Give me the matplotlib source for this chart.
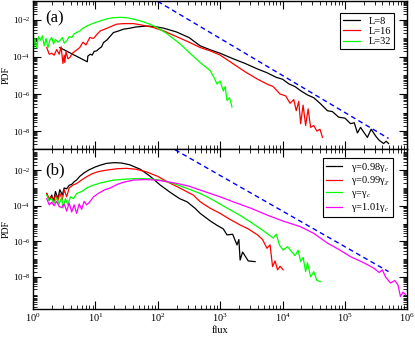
import numpy as np
import matplotlib
matplotlib.use("Agg")
import matplotlib.pyplot as plt
from matplotlib.ticker import LogLocator, NullFormatter, LogFormatterMathtext, FixedLocator

plt.rcParams['font.family'] = ['Liberation Serif', 'DejaVu Serif']
plt.rcParams['mathtext.fontset'] = 'stix'

# ---- data as log10 values ----
# panel (a): system size L
a8_lx = [0.43, 0.55, 0.65, 0.75, 0.87, 0.88, 0.92, 0.95, 0.98, 1.02, 1.06, 1.10, 1.13, 1.18, 1.22,
         1.29, 1.35, 1.45, 1.55, 1.65, 1.72, 1.82, 1.95, 2.1, 2.3, 2.5, 2.68, 2.84, 3.0, 3.21, 3.4,
         3.6, 3.75, 3.9, 4.0, 4.1, 4.2, 4.29, 4.4, 4.5, 4.6, 4.72, 4.8, 4.9, 5.0, 5.09, 5.15, 5.2,
         5.25, 5.3, 5.36, 5.42, 5.5, 5.55, 5.62, 5.66, 5.70]
a8_ly = [-3.5, -3.7, -3.88, -4.05, -4.26, -3.95, -3.85, -3.9, -3.7, -3.67, -3.55, -3.45, -3.22, -3.1,
         -2.95, -2.68, -2.62, -2.5, -2.45, -2.38, -2.36, -2.33, -2.36, -2.45, -2.65, -2.95, -3.40,
         -3.61, -3.8, -4.1, -4.35, -4.65, -4.85, -5.1, -5.2, -5.45, -5.6, -5.82, -6.05, -6.2, -6.5,
         -6.9, -6.95, -7.25, -7.3, -7.6, -7.55, -8.1, -7.8, -8.05, -8.34, -7.9, -8.3, -8.5, -8.67,
         -8.55, -8.67]

a16_lx = [0.22, 0.26, 0.30, 0.34, 0.38, 0.42, 0.45, 0.48, 0.50, 0.51, 0.53, 0.56, 0.59, 0.63, 0.67,
          0.71, 0.75, 0.80, 0.85, 0.91, 0.97, 1.02, 1.08, 1.15, 1.22, 1.34, 1.45, 1.61, 1.75, 1.93,
          2.1, 2.3, 2.5, 2.68, 2.84, 3.0, 3.21, 3.4, 3.6, 3.75, 3.85, 3.96, 4.05, 4.12, 4.18, 4.22,
          4.26, 4.29, 4.33, 4.37, 4.41, 4.45, 4.5, 4.55, 4.6, 4.64]
a16_ly = [-3.49, -3.85, -3.8, -3.9, -3.6, -3.85, -3.45, -4.35, -3.9, -4.3, -3.7, -4.1, -4.03, -3.8,
          -3.7, -3.6, -3.49, -3.2, -3.35, -2.95, -3.0, -2.8, -2.59, -2.5, -2.4, -2.23, -2.2, -2.2,
          -2.28, -2.41, -2.6, -2.9, -3.2, -3.49, -3.67, -3.9, -4.37, -4.8, -5.2, -5.46, -5.6, -6.0,
          -6.1, -6.5, -6.3, -6.9, -6.4, -7.6, -6.6, -7.7, -6.8, -7.8, -7.7, -8.0, -7.9, -8.34]

a32_lx = [0.0, 0.03, 0.06, 0.09, 0.12, 0.15, 0.18, 0.21, 0.24, 0.27, 0.30, 0.33, 0.36, 0.40, 0.43,
          0.47, 0.50, 0.54, 0.58, 0.62, 0.66, 0.70, 0.75, 0.80, 0.87, 0.95, 1.08, 1.2, 1.29, 1.4,
          1.5, 1.6, 1.72, 1.85, 1.99, 2.15, 2.36, 2.5, 2.68, 2.84, 2.9, 2.95, 3.0, 3.05, 3.08, 3.11,
          3.15, 3.19]
a32_ly = [-3.8, -3.0, -3.5, -2.9, -3.1, -2.86, -3.4, -3.0, -3.5, -3.1, -2.95, -3.3, -3.05, -3.2,
          -3.13, -2.95, -3.25, -3.13, -2.9, -2.95, -2.75, -2.68, -2.6, -2.45, -2.32, -2.2, -2.05,
          -1.93, -1.88, -1.86, -1.88, -1.95, -2.05, -2.2, -2.41, -2.75, -3.3, -3.75, -4.3, -4.74,
          -5.1, -5.46, -5.3, -5.84, -5.6, -6.35, -6.2, -6.7]

# panel (b): coupling gamma
b98_lx = [0.22, 0.26, 0.30, 0.33, 0.36, 0.40, 0.43, 0.47, 0.50, 0.54, 0.58, 0.62, 0.66, 0.70, 0.75,
          0.82, 0.90, 1.0, 1.08, 1.18, 1.3, 1.42, 1.55, 1.72, 1.88, 2.04, 2.2, 2.35, 2.47, 2.6, 2.68,
          2.84, 2.95, 3.05, 3.11, 3.2, 3.27, 3.3, 3.32, 3.36, 3.45, 3.56]
b98_ly = [-3.31, -3.7, -3.4, -3.75, -3.2, -3.6, -3.1, -3.4, -3.0, -3.05, -2.85, -2.8, -2.65, -2.55,
          -2.35, -2.15, -1.98, -1.82, -1.72, -1.62, -1.58, -1.6, -1.7, -1.95, -2.35, -2.84, -3.25,
          -3.6, -3.78, -4.15, -4.43, -4.85, -5.1, -5.3, -5.64, -5.6, -6.2, -5.9, -7.05, -6.6, -7.1,
          -7.14]

b99_lx = [0.22, 0.26, 0.30, 0.33, 0.36, 0.40, 0.43, 0.47, 0.50, 0.54, 0.58, 0.64, 0.7, 0.78, 0.86,
          0.95, 1.05, 1.18, 1.35, 1.5, 1.65, 1.82, 2.0, 2.15, 2.35, 2.57, 2.68, 2.84, 3.0, 3.15,
          3.32, 3.45, 3.6, 3.68, 3.75, 3.8, 3.84, 3.88, 3.92, 3.96, 4.01]
b99_ly = [-3.31, -3.6, -3.5, -3.8, -3.4, -3.7, -3.3, -3.65, -3.1, -3.5, -3.0, -2.84, -2.75, -2.55,
          -2.37, -2.2, -2.08, -2.0, -1.92, -1.9, -1.95, -2.1, -2.35, -2.65, -3.0, -3.4, -3.78,
          -4.14, -4.43, -4.75, -5.08, -5.3, -5.64, -5.9, -6.39, -6.2, -7.42, -7.1, -7.6, -7.4, -7.6]

b100_lx = [0.22, 0.26, 0.30, 0.34, 0.38, 0.42, 0.46, 0.48, 0.52, 0.56, 0.60, 0.65, 0.70, 0.78, 0.86,
           0.97, 1.1, 1.29, 1.5, 1.72, 1.9, 2.04, 2.25, 2.47, 2.68, 2.84, 3.11, 3.3, 3.48, 3.65,
           3.85, 3.9, 3.95, 4.01, 4.08, 4.15, 4.2, 4.25, 4.29, 4.33, 4.37, 4.4, 4.45, 4.5, 4.55,
           4.61]
b100_ly = [-3.4, -3.7, -3.6, -3.85, -3.55, -3.9, -3.5, -4.13, -3.6, -3.95, -3.5, -3.6, -3.31, -3.2,
           -3.0, -2.84, -2.7, -2.56, -2.5, -2.47, -2.5, -2.56, -2.75, -3.03, -3.31, -3.59, -4.13,
           -4.5, -4.9, -5.3, -5.81, -5.6, -6.2, -6.49, -6.3, -6.6, -6.8, -6.5, -7.14, -6.9, -7.7,
           -7.2, -8.0, -7.7, -8.2, -8.26]

b101_lx = [0.22, 0.26, 0.30, 0.34, 0.38, 0.42, 0.46, 0.50, 0.54, 0.58, 0.62, 0.66, 0.70, 0.74, 0.78,
           0.82, 0.86, 0.91, 0.97, 1.05, 1.15, 1.24, 1.35, 1.45, 1.61, 1.8, 1.98, 2.15, 2.31, 2.5,
           2.68, 2.84, 3.0, 3.21, 3.5, 3.75, 4.0, 4.29, 4.5, 4.72, 4.9, 5.09, 5.3, 5.46, 5.55, 5.6,
           5.65, 5.73, 5.8, 5.85, 5.89, 5.93, 5.97]
b101_ly = [-3.6, -3.95, -3.8, -4.0, -3.75, -4.05, -4.1, -3.9, -4.3, -3.85, -4.35, -3.95, -4.43,
           -3.9, -4.2, -3.75, -3.95, -3.78, -3.5, -3.3, -3.1, -3.0, -2.8, -2.68, -2.56, -2.53,
           -2.56, -2.65, -2.75, -2.9, -3.12, -3.31, -3.5, -3.78, -4.15, -4.52, -4.85, -5.18, -5.55,
           -6.1, -6.45, -6.86, -7.2, -7.5, -7.75, -7.6, -8.0, -8.34, -8.2, -8.45, -9.1, -8.85, -9.0]

# guide lines ~ flux^-2
guide_a = (1e2, 5e5, 1e3)   # x start, x end, prefactor
guide_b = (1.9e2, 5e5, 5e3)

xticks = [1e0, 1e1, 1e2, 1e3, 1e4, 1e5, 1e6]
yticks = [1e-8, 1e-6, 1e-4, 1e-2]

fig = plt.figure(figsize=(4.15, 3.38), dpi=100)
ax1 = fig.add_axes([0.0795, 0.559, 0.902, 0.438])
ax2 = fig.add_axes([0.0795, 0.0858, 0.902, 0.473])

lw = 0.9

def p(v):
    return 10.0 ** np.asarray(v)

ax1.plot(p(a8_lx), p(a8_ly), color='black', lw=lw, label='L=8')
ax1.plot(p(a16_lx), p(a16_ly), color='#ff0000', lw=lw, label='L=16')
ax1.plot(p(a32_lx), p(a32_ly), color='#00ff00', lw=lw, label='L=32')
gx = np.array(guide_a[:2])
ax1.plot(gx, guide_a[2] * gx ** -2.0, color='#0000ff', lw=1.0, ls=(0, (3.5, 2.5)))

ax2.plot(p(b98_lx), p(b98_ly), color='black', lw=lw, label=r'γ=0.98γ$_c$')
ax2.plot(p(b99_lx), p(b99_ly), color='#ff0000', lw=lw, label=r'γ=0.99γ$_\chi$')
ax2.plot(p(b100_lx), p(b100_ly), color='#00ff00', lw=lw, label=r'γ=γ$_c$')
ax2.plot(p(b101_lx), p(b101_ly), color='#ff00ff', lw=lw, label=r'γ=1.01γ$_c$')
gx = np.array(guide_b[:2])
ax2.plot(gx, guide_b[2] * gx ** -2.0, color='#0000ff', lw=1.0, ls=(0, (3.5, 2.5)))

ax1.set_ylim(10 ** -8.97, 10 ** -0.98)
ax2.set_ylim(10 ** -9.8, 10 ** -0.82)

for ax in (ax1, ax2):
    ax.set_xscale('log')
    ax.set_yscale('log')
    ax.set_xlim(1, 1e6)
    ax.xaxis.set_major_locator(FixedLocator(xticks))
    ax.xaxis.set_minor_locator(LogLocator(base=10, subs=np.arange(2, 10), numticks=20))
    ax.yaxis.set_major_locator(FixedLocator(yticks))
    ax.yaxis.set_minor_locator(LogLocator(base=10, subs=np.arange(1, 10), numticks=20))
    ax.xaxis.set_minor_formatter(NullFormatter())
    ax.yaxis.set_minor_formatter(NullFormatter())
    ax.yaxis.set_major_formatter(LogFormatterMathtext())
    ax.tick_params(which='both', direction='in', top=True, right=True, labelsize=6.5, pad=2)
    ax.tick_params(which='major', length=5.5, width=0.8)
    ax.tick_params(which='minor', length=3, width=0.6)
    for s in ax.spines.values():
        s.set_linewidth(1.0)
    ax.set_ylabel('PDF', fontsize=7, labelpad=0)
    ax.yaxis.set_label_coords(-0.06, 0.5)
    leg = ax.legend(fontsize=7.5, handlelength=1.6, labelspacing=0.1, borderpad=0.3,
                    handletextpad=0.8, fancybox=False, framealpha=1, edgecolor='black',
                    loc='upper right',
                    bbox_to_anchor=(0.978, 0.953) if ax is ax1 else (0.975, 0.98))
    leg.get_frame().set_linewidth(0.8)

ax1.tick_params(labelbottom=False)
ax2.xaxis.set_major_formatter(LogFormatterMathtext())
ax2.tick_params(axis='x', labelsize=7.5)
ax2.set_xlabel('flux', fontsize=7.5, labelpad=1)

ax1.text(0.032, 0.88, '(a)', transform=ax1.transAxes, fontsize=12, va='center')
ax2.text(0.032, 0.87, '(b)', transform=ax2.transAxes, fontsize=12, va='center')

fig.savefig('out.png', dpi=100)
